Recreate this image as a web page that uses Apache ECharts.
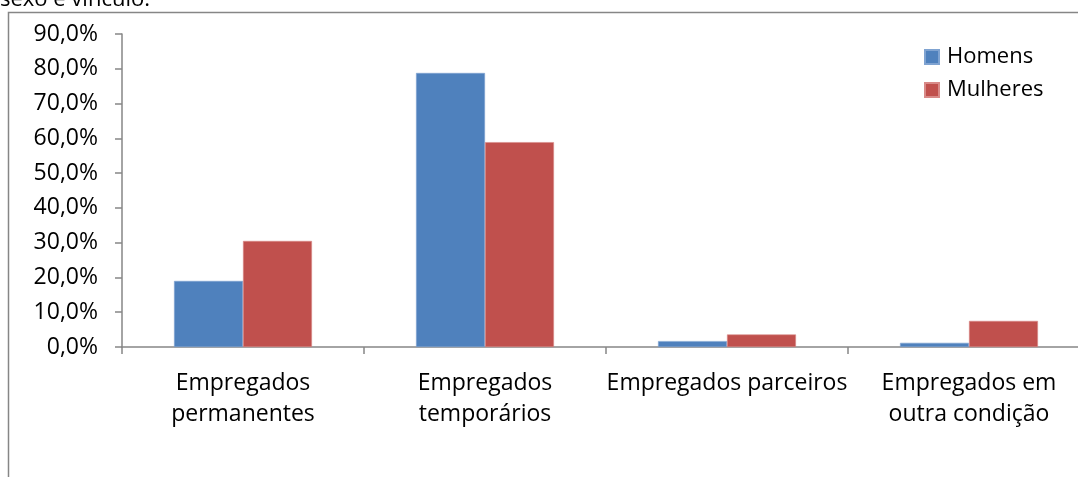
<!DOCTYPE html>
<html>
<head>
<meta charset="utf-8">
<style>
  html, body { margin: 0; padding: 0; background: #fff; }
  #chart { width: 1078px; height: 477px; }
</style>
<script src="https://cdn.jsdelivr.net/npm/echarts@6/dist/echarts.min.js"></script>
</head>
<body>
<div id="chart"></div>
<script>
// Employment type categories
const categories = [
  'Empregados\npermanentes',
  'Empregados\ntemporários',
  'Empregados parceiros',
  'Empregados em\noutra condição'
];
// Share of workers per category (%)
const homens = [19.0, 78.8, 1.7, 1.2];
const mulheres = [30.5, 58.9, 3.6, 7.5];
const seriesNames = ['Homens', 'Mulheres'];
const captionText = 'sexo e vínculo.';

const FONT = '"Open Sans", "Noto Sans", sans-serif';
const FS = 23;
const AXIS_GRAY = '#868686';

const chart = echarts.init(document.getElementById('chart'), null, { renderer: 'canvas' });

chart.setOption({
  animation: false,
  backgroundColor: '#fff',
  textStyle: { fontFamily: FONT },
  graphic: [
    {
      type: 'rect',
      shape: { x: 8.5, y: 12.5, width: 1200, height: 600 },
      style: { fill: 'none', stroke: AXIS_GRAY, lineWidth: 1.5 },
      z: 0
    },
    {
      type: 'text',
      x: 0,
      y: 11,
      style: {
        text: captionText, fontSize: 22, fontFamily: FONT, fill: '#000',
        verticalAlign: 'bottom'
      }
    }
  ],
  legend: {
    orient: 'vertical',
    left: 919,
    top: 41,
    itemWidth: 14,
    itemHeight: 14,
    itemGap: 11,
    icon: 'rect',
    textStyle: { fontSize: 22, lineHeight: 22, color: '#000', fontFamily: FONT, padding: [0, 0, 0, 3] },
    data: seriesNames
  },
  grid: { left: 122, top: 34, width: 968, height: 313, containLabel: false, outerBoundsMode: 'none' },
  xAxis: {
    type: 'category',
    data: categories,
    axisLine: { lineStyle: { color: AXIS_GRAY, width: 1.5 } },
    axisTick: { show: true, length: 7, lineStyle: { color: AXIS_GRAY, width: 1.5 } },
    axisLabel: {
      color: '#000', fontSize: FS, fontFamily: FONT,
      margin: 21, lineHeight: 31, interval: 0
    },
    splitLine: { show: false }
  },
  yAxis: {
    type: 'value',
    min: 0, max: 90, interval: 10,
    axisLine: { show: true, lineStyle: { color: AXIS_GRAY, width: 1.5 } },
    axisTick: { show: true, length: 7, lineStyle: { color: AXIS_GRAY, width: 1.5 } },
    axisLabel: {
      color: '#000', fontSize: FS, fontFamily: FONT, margin: 24,
      padding: [4, 0, 0, 0],
      formatter: v => v.toFixed(1).replace('.', ',') + '%'
    },
    splitLine: { show: false }
  },
  series: [
    {
      name: seriesNames[0], type: 'bar', data: homens,
      barGap: '0%', barCategoryGap: '43%',
      itemStyle: { color: '#4F81BD', borderColor: '#7FA3D1', borderWidth: 0.6 }
    },
    {
      name: seriesNames[1], type: 'bar', data: mulheres,
      barGap: '0%', barCategoryGap: '43%',
      itemStyle: { color: '#C0504D', borderColor: '#D88A88', borderWidth: 0.6 }
    }
  ]
});
</script>
</body>
</html>
